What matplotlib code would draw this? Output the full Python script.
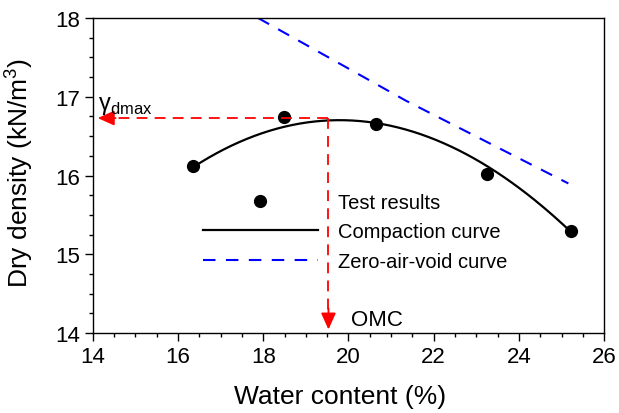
import numpy as np
import matplotlib
matplotlib.use("Agg")
import matplotlib.pyplot as plt
from matplotlib.ticker import MultipleLocator

plt.rcParams['font.family'] = ['Liberation Sans', 'DejaVu Sans']
plt.rcParams['mathtext.fontset'] = 'custom'
plt.rcParams['mathtext.rm'] = 'Liberation Sans'

# test results
w_test = [16.36, 18.49, 20.65, 23.26, 25.22]
rho_test = [16.12, 16.74, 16.65, 16.02, 15.29]

# points on the compaction curve
w_curve = [16.36, 17.5, 18.49, 19.53, 20.65, 22.0, 23.26, 24.3, 25.22]
rho_curve = [16.12, 16.42, 16.61, 16.72, 16.67, 16.47, 16.10, 15.72, 15.29]

# zero-air-void curve
w_zav = [17.88, 21.35, 25.16]
rho_zav = [18.0, 16.95, 15.90]

omc = 19.53
gdmax = 16.73

fig = plt.figure(figsize=(6.19, 4.14), dpi=100)
ax = fig.add_axes([0.150, 0.193, 0.826, 0.761])

# smooth the read curve points with a cubic
coef = np.polyfit(w_curve, rho_curve, 3)
w_fit = np.linspace(w_curve[0], w_curve[-1], 200)
ax.plot(w_fit, np.polyval(coef, w_fit), color='black', lw=1.6, label='Compaction curve')
ax.plot(w_test, rho_test, 'o', color='black', ms=8.5, label='Test results')
ax.plot(w_zav, rho_zav, color='blue', lw=1.5, ls=(0, (6, 5)), label='Zero-air-void curve')

# OMC / max dry density guide lines
ax.plot([omc, 14.4], [gdmax, gdmax], color='red', lw=1.3, ls=(0, (6, 4)))
ax.plot([omc, omc], [gdmax, 14.25], color='red', lw=1.3, ls=(0, (6, 4)))
ax.annotate('', xy=(14.05, gdmax), xytext=(14.6, gdmax),
            arrowprops=dict(arrowstyle='-|>,head_length=1.0,head_width=0.45', color='red', lw=1.3))
ax.annotate('', xy=(omc, 14.01), xytext=(omc, 14.35),
            arrowprops=dict(arrowstyle='-|>,head_length=1.0,head_width=0.45', color='red', lw=1.3))
ax.text(14.12, 16.85, r'$\mathrm{\gamma}_{\mathrm{dmax}}$', fontsize=17)
ax.text(20.05, 14.1, 'OMC', fontsize=16)

ax.set_xlim(14, 26)
ax.set_ylim(14, 18)
ax.xaxis.set_major_locator(MultipleLocator(2))
ax.xaxis.set_minor_locator(MultipleLocator(0.5))
ax.yaxis.set_major_locator(MultipleLocator(1))
ax.yaxis.set_minor_locator(MultipleLocator(0.25))
ax.tick_params(which='both', direction='out', width=1.0, labelsize=16)
ax.tick_params(which='major', length=6)
ax.tick_params(which='minor', length=3)
for s in ax.spines.values():
    s.set_linewidth(1.0)

ax.set_xlabel('Water content (%)', fontsize=19)
ax.set_ylabel('Dry density (kN/m$^3$)', fontsize=19)
ax.xaxis.set_label_coords(0.483, -0.163)
ax.yaxis.set_label_coords(-0.113, 0.51)

h, l = ax.get_legend_handles_labels()
order = [1, 0, 2]
ax.legend([h[i] for i in order], [l[i] for i in order], loc='upper left',
          bbox_to_anchor=(0.215, 0.445), frameon=False, fontsize=14.5,
          handlelength=5.7, handletextpad=1.0, labelspacing=0.52,
          borderpad=0, borderaxespad=0)

fig.savefig('out.png', dpi=100)
